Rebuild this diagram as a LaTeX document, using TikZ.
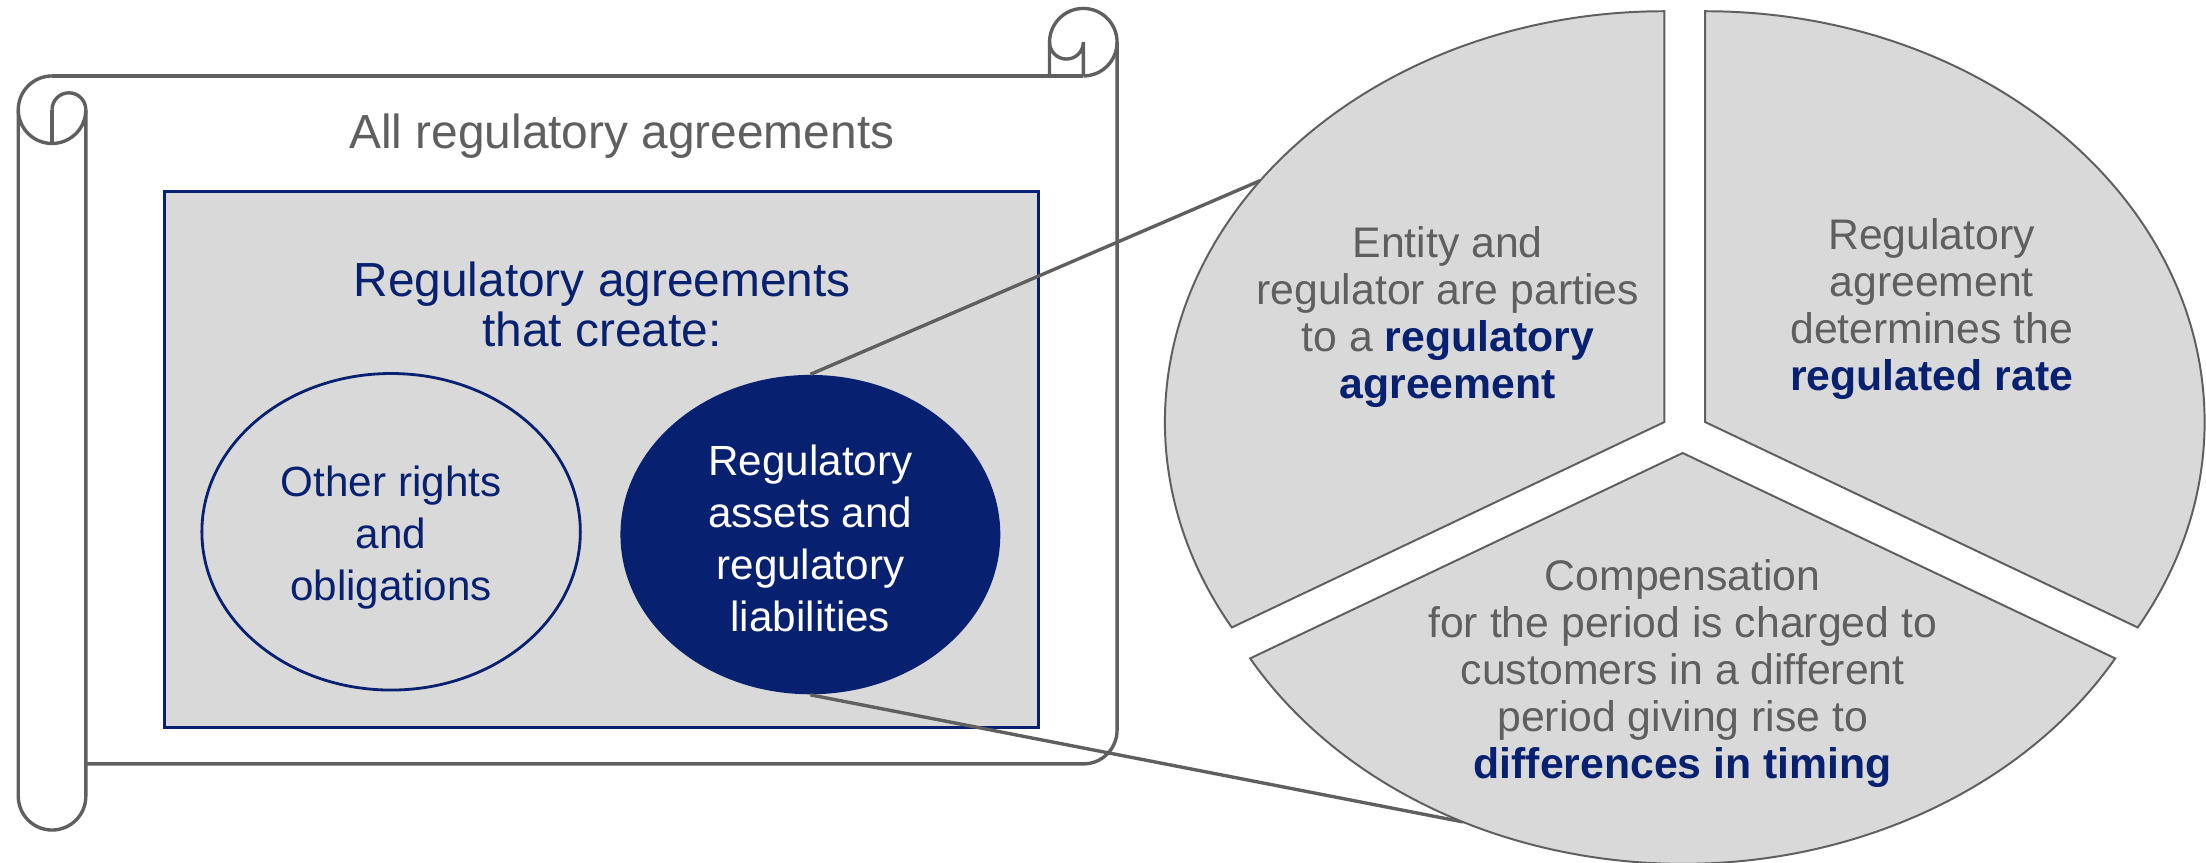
\documentclass[tikz,border=0pt]{standalone}
\usepackage{fontspec}
\setmainfont{Liberation Sans}
\usepackage{tikz}
\usetikzlibrary{shapes.geometric}

\definecolor{navy}{RGB}{7,33,112}
\definecolor{txtgray}{RGB}{95,95,95}
\definecolor{lightfill}{RGB}{217,217,217}
\newcommand{\keyword}[1]{{\color{navy}\bfseries #1}}

\begin{document}
\begin{tikzpicture}[x=0.5pt, y=0.5pt,
	roll/.style={draw=txtgray, line width=1.2pt},
	sector/.style={fill=lightfill, draw=txtgray, line width=0.7pt},
	lead/.style={draw=txtgray, line width=1.2pt},
	bubble/.style={ellipse, minimum width=134.5pt, minimum height=112.5pt, inner sep=0pt, align=center, font=\fontsize{15}{18.5}\selectfont},
	piecetext/.style={align=center, text=txtgray, font=\fontsize{15.2}{16.7}\selectfont}]
	\fill [white] (0,0) rectangle (1568,613);
	\useasboundingbox (0,0) rectangle (1568,613);

	% the scroll
	\begin{scope}
	  \draw [roll] (37,559) -- (770,559);
	  \draw [roll] (770,559) arc[start angle=-90, end angle=180, radius=24] -- (746,559);
	  \draw [roll] (746,583) arc[start angle=180, end angle=360, radius=12] -- (770,559);
	  \draw [roll] (794,583) -- (794,94) arc[start angle=0, end angle=-90, radius=24] -- (61,70);
	  \draw [roll] (37,559) arc[start angle=90, end angle=360, radius=24];
	  \draw [roll] (37,535) arc[start angle=180, end angle=0, radius=12];
	  \draw [roll] (37,535) -- (37,511);
	  \draw [roll] (13,535) -- (13,47) arc[start angle=180, end angle=360, radius=24] -- (61,535);
	  \node [text=txtgray, font=\fontsize{17}{17.5}\selectfont] (all) at (442,516) {All regulatory agreements};
	\end{scope}

	% regulatory agreements box
	\filldraw [fill=lightfill, draw=navy, line width=1.1pt] (117,96) rectangle (738,477);
	\node [text=navy, align=center, font=\fontsize{17}{17.8}\selectfont] (create) at (428,396.5) {Regulatory agreements\\that create:};
	\node [bubble, draw=navy, line width=1pt, fill=lightfill, text=navy] (other) at (278,235) {};
	\node [text=navy, align=center, font=\fontsize{15}{18.5}\selectfont] (othertext) at (278,231) {Other rights\\and\\obligations};
	\node [bubble, minimum width=135pt, minimum height=113.5pt, fill=navy, text=white] (liab) at (576,233) {};
	\node [text=white, align=center, font=\fontsize{15}{18.5}\selectfont] (liabtext) at (576,230.5) {Regulatory\\assets and\\regulatory\\liabilities};

	% pie pieces
	\coordinate (lapex) at (1183,313);
	\coordinate (rapex) at (1212,313);
	\coordinate (bapex) at (1196,291);
	\coordinate (lhit) at ([shift={(144:355 and 292)}]lapex);
	\coordinate (bhit) at ([shift={(243.9:355 and 292)}]bapex);

	\draw [lead] (liab.north) -- (lhit);
	\draw [lead] (liab.south) -- (bhit);

	\filldraw [sector] (lapex) -- ++(0,292) arc[start angle=90, end angle=210, x radius=355, y radius=292] -- cycle;
	\filldraw [sector] (rapex) -- ++(0,292) arc[start angle=90, end angle=-30, x radius=355, y radius=292] -- cycle;
	\filldraw [sector] (bapex) -- ++(210:355 and 292) arc[start angle=210, end angle=330, x radius=355, y radius=292] -- cycle;

	\node [piecetext] (parties) at (1029,387.5) {Entity and\\regulator are parties\\to a \keyword{regulatory}\\\keyword{agreement}};
	\node [piecetext] (rate) at (1373,393) {Regulatory\\agreement\\determines the\\\keyword{regulated rate}};
	\node [piecetext] (timing) at (1196,134) {Compensation\\for the period is charged to\\customers in a different\\period giving rise to\\\keyword{differences in timing}};
\end{tikzpicture}
\end{document}
